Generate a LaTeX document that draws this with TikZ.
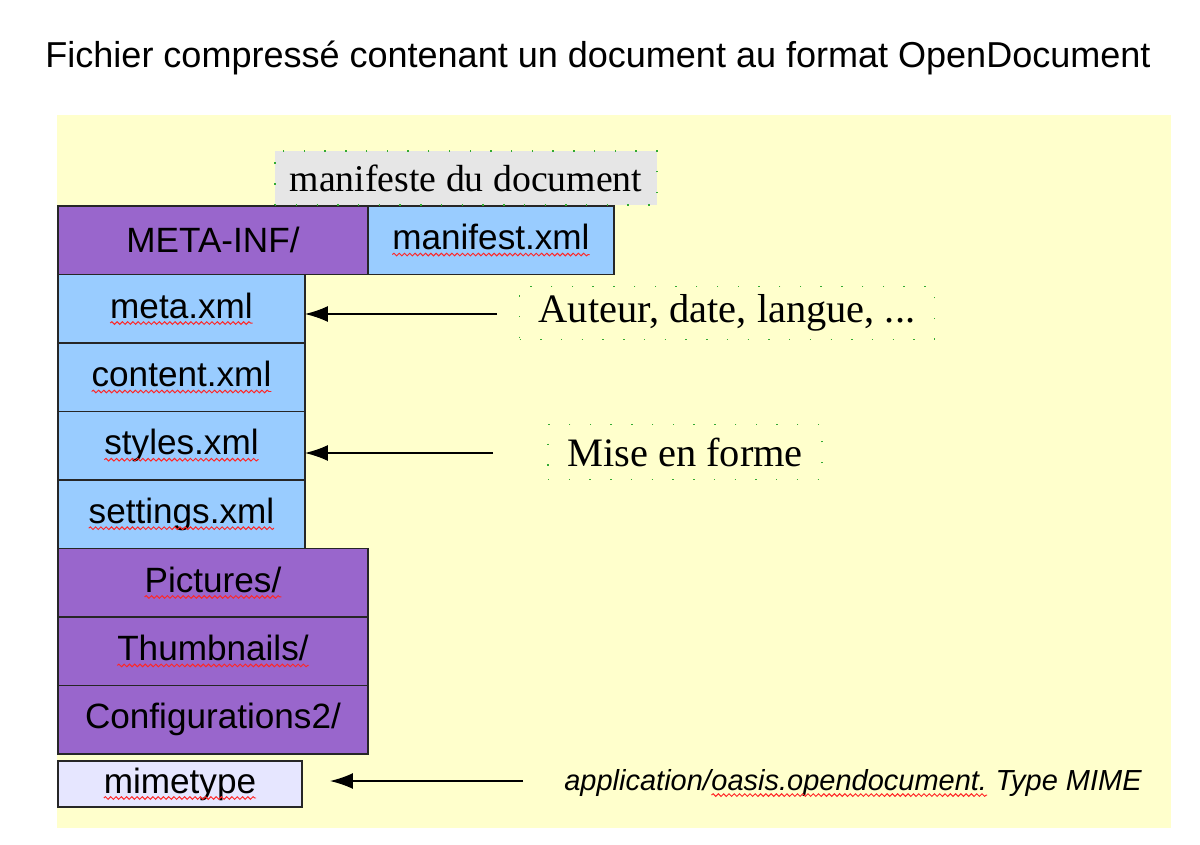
\documentclass[tikz,border=0pt]{standalone}
\usepackage{fontspec}
\setmainfont{Liberation Sans}
\newfontfamily\notefont{Liberation Serif}
\usetikzlibrary{arrows.meta,decorations.pathmorphing}
\definecolor{odfyellow}{HTML}{FFFFCC}
\definecolor{odfpurple}{HTML}{9966CC}
\definecolor{odfblue}{HTML}{99CCFF}
\definecolor{odflav}{HTML}{E6E6FF}
\definecolor{odfgray}{HTML}{E6E6E6}
\definecolor{odfgreen}{HTML}{33AA33}
\tikzset{
  dir/.style   ={draw=black!85,line width=0.8pt,fill=odfpurple,font=\fontsize{20}{24}\selectfont,
                 minimum width=6.2cm,minimum height=1.37cm,inner sep=0pt,outer sep=0pt,anchor=north west},
  file/.style  ={dir,fill=odfblue,minimum width=4.94cm},
  note/.style  ={font=\notefont\fontsize{23}{27}\selectfont,inner sep=0pt},
  frame/.style ={draw=odfgreen,line width=0.8pt,dash pattern=on 0.8pt off 11pt},
  ar/.style    ={-{Latex[length=13pt,width=9pt]},line width=0.8pt},
  wave/.style  ={draw=red!85,solid,line width=0.55pt,decorate,
                 decoration={snake,amplitude=0.75pt,segment length=3pt}},
}
\newcommand\wavy[1]{\tikz[baseline=(w.base)]{%
  \node[draw=none,fill=none,inner sep=0pt,outer sep=0pt,minimum width=0pt,minimum height=0pt,anchor=base](w){#1};
  \draw[wave]([yshift=-2.8pt]w.base west)--([yshift=-2.8pt]w.base east);}}

\begin{document}
\begin{tikzpicture}[x=0.02cm,y=-0.02cm]
  \useasboundingbox (0,0) rectangle (1200,845);
  \fill[odfyellow] (57,115) rectangle (1171,828);
  \node[font=\fontsize{20.5}{24}\selectfont] (title) at (598,58)
    {Fichier compressé contenant un document au format OpenDocument};

  % archive content
  \node[dir] (metainf) at (58,206) {META-INF/};
  \node[file,minimum width=4.92cm] (manif) at (metainf.north east) {\wavy{manifest.xml}};
  \node[file] (meta)     at (metainf.south west) {\wavy{meta.xml}};
  \node[file] (content)  at (meta.south west)    {\wavy{content.xml}};
  \node[file] (styles)   at (content.south west) {\wavy{styles.xml}};
  \node[file] (settings) at (styles.south west)  {\wavy{settings.xml}};
  \node[dir]  (pict)     at (settings.south west) {\wavy{Pictures/}};
  \node[dir]  (thumb)    at (pict.south west)    {\wavy{Thumbnails/}};
  \node[dir]  (config)   at (thumb.south west)   {Configurations2/};
  \node[dir,fill=odflav,minimum width=4.88cm,minimum height=0.92cm] (mime) at (58,761) {\wavy{mimetype}};

  % comments
  \node[note,frame,fill=odfgray,font=\notefont\fontsize{21.5}{25}\selectfont,
        minimum width=7.64cm,minimum height=1.08cm] (manlbl) at (466,178) {manifeste du document};
  \node[note,frame,minimum width=8.3cm,minimum height=1.06cm] (auteur) at (727,313) {Auteur, date, langue, ...};
  \node[note,frame,minimum width=5.48cm,minimum height=1.1cm] (forme) at (685,452) {Mise en forme};
  \node[font=\itshape\fontsize{16.5}{20}\selectfont] (mimetxt) at (853,783)
    {application/\wavy{oasis.opendocument.} Type MIME};

  \coordinate (a1) at (497,314);
  \coordinate (a2) at (493,453);
  \coordinate (m1) at (523,781);
  \coordinate (m2) at (330,781);
  \draw[ar] (a1) -- (a1 -| meta.east);
  \draw[ar] (a2) -- (a2 -| styles.east);
  \draw[ar] (m1) -- (m2);
\end{tikzpicture}
\end{document}
